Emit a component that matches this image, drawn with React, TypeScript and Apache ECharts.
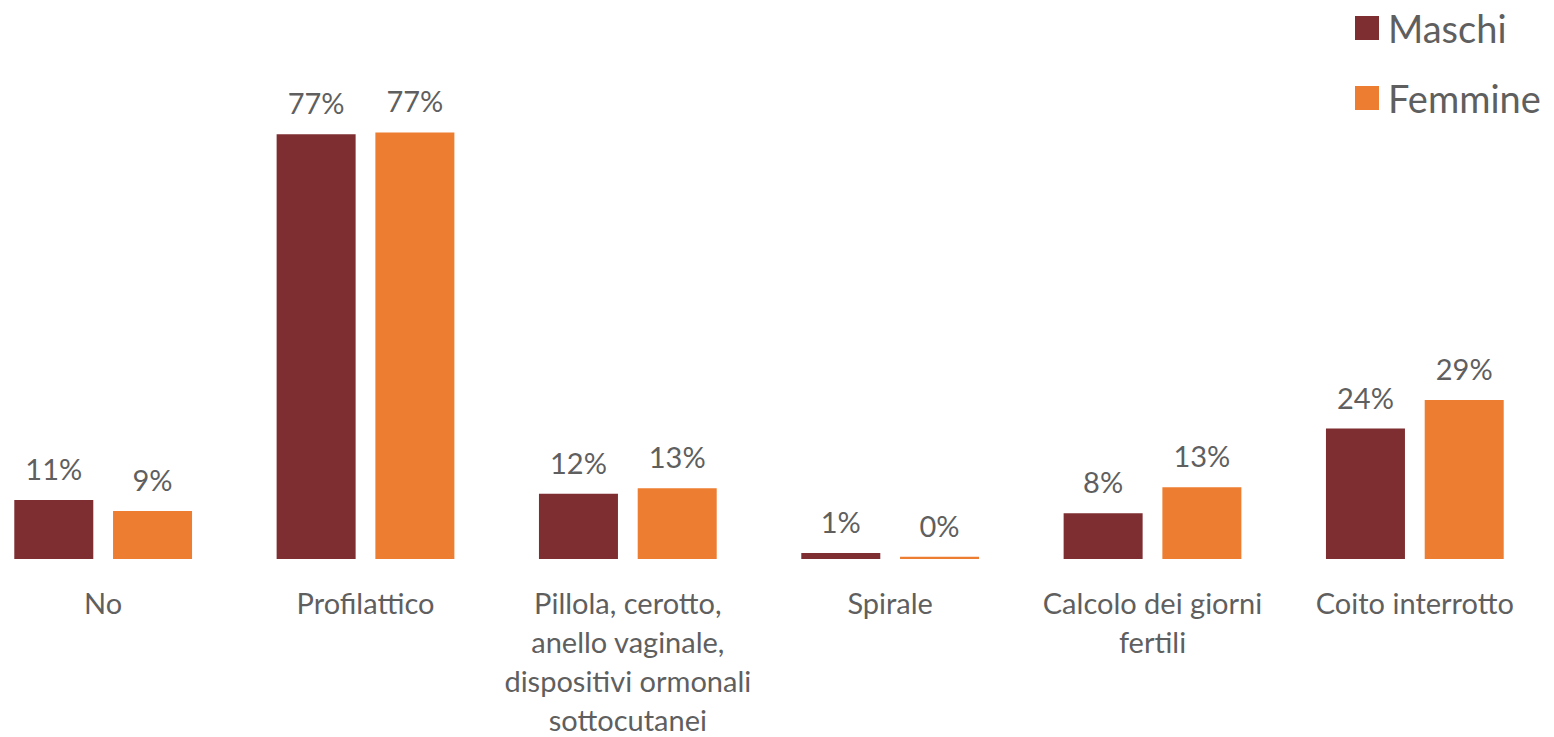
import React, { useEffect, useRef } from "react";
import * as echarts from "echarts";

const categories = [
  "No",
  "Profilattico",
  "Pillola, cerotto,\nanello vaginale,\ndispositivi ormonali\nsottocutanei",
  "Spirale",
  "Calcolo dei giorni\nfertili",
  "Coito interrotto",
];
const maschi = [10.7, 76.9, 11.8, 1.1, 8.3, 23.6];
const femmine = [8.7, 77.2, 12.8, 0.4, 13.0, 28.8];
const seriesNames = ["Maschi", "Femmine"];
const colors = ["#7E2D30", "#ED7D31"];

const FONT = "Lato";

export default function App() {
  const ref = useRef<HTMLDivElement>(null);
  useEffect(() => {
    document.body.style.margin = "0";
    const chart = echarts.init(ref.current!, undefined, { renderer: "svg" });
    const label = {
      show: true,
      position: "top",
      distance: 17,
      color: "#5f5f5f",
      fontFamily: FONT,
      fontSize: 29,
      formatter: (p: any) => Math.round(p.value) + "%",
    };
    chart.setOption({
      animation: false,
      textStyle: { fontFamily: FONT },
      legend: {
        orient: "vertical",
        left: 1355,
        top: 9,
        itemWidth: 24,
        itemHeight: 24,
        itemGap: 32,
        padding: 0,
        icon: "rect",
        textStyle: { color: "#5f5f5f", fontSize: 38, fontFamily: FONT, padding: [0, 0, 0, 4] },
        data: seriesNames,
      },
      grid: { left: -28, width: 1574, top: 117, height: 442, outerBoundsMode: "none", containLabel: false },
      xAxis: {
        type: "category",
        data: categories,
        axisLine: { show: false },
        axisTick: { show: false },
        axisLabel: {
          color: "#5f5f5f",
          fontFamily: FONT,
          fontSize: 29,
          lineHeight: 39,
          margin: 24,
          interval: 0,
        },
      },
      yAxis: { type: "value", min: 0, max: 80, show: false, splitLine: { show: false } },
      series: [
        {
          name: seriesNames[0],
          type: "bar",
          data: maschi,
          barWidth: 79,
          barGap: "25%",
          itemStyle: { color: colors[0] },
          label,
        },
        {
          name: seriesNames[1],
          type: "bar",
          data: femmine,
          barWidth: 79,
          barGap: "25%",
          itemStyle: { color: colors[1] },
          label,
        },
      ],
    });
    return () => chart.dispose();
  }, []);
  return <div ref={ref} style={{ width: 1554, height: 737 }} />;
}
